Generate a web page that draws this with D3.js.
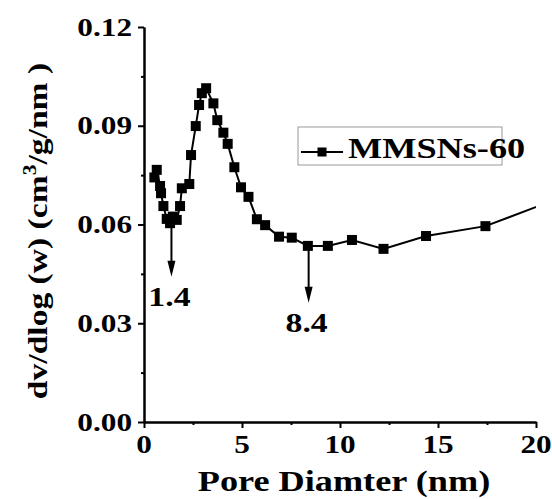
<!DOCTYPE html>
<html><head><meta charset="utf-8">
<script src="https://cdn.jsdelivr.net/npm/d3@7"></script>
<style>html,body{margin:0;padding:0;background:#fff;}svg{display:block;}</style>
</head><body>
<svg id="c" width="552" height="499"></svg>
<script>
// ---- data ----
const poreDiameter = [0.53,0.65,0.82,0.87,0.99,1.16,1.33,1.47,1.67,1.84,1.93,2.31,2.40,2.64,2.81,2.95,3.17,3.54,3.74,4.05,4.27,4.61,4.95,5.33,5.76,6.18,6.89,7.54,8.36,9.38,10.61,12.22,14.39,17.42,22.6];
const dvdlogW      = [0.0743,0.0766,0.0717,0.0695,0.0656,0.0617,0.0604,0.0624,0.0614,0.0656,0.0710,0.0723,0.0811,0.0899,0.0963,0.0999,0.1014,0.0968,0.0917,0.0879,0.0845,0.0774,0.0713,0.0684,0.0616,0.0598,0.0563,0.0560,0.0535,0.0535,0.0553,0.0526,0.0565,0.0595,0.0712];
const xTicks = [0,5,10,15,20];
const xMinor = [2.5,7.5,12.5,17.5];
const yTicks = [0.00,0.03,0.06,0.09,0.12];
const yMinor = [0.015,0.045,0.075,0.105];
const seriesName = "MMSNs-60";
const annotations = [{x:1.4, y0:0.0600, y1:0.0441, label:"1.4"},{x:8.4, y0:0.0530, y1:0.0362, label:"8.4"}];

const svg = d3.select("#c");
const L=144, R=536, T=27, B=422;
const x = d3.scaleLinear().domain([0,20]).range([L,R]);
const y = d3.scaleLinear().domain([0,0.12]).range([B,T]);
const FONT = "'Liberation Serif','Times New Roman',serif";
const SX = 1.25;

function stext(g, tx, ty, str, size, anchor){
  const grp = g.append("g").attr("transform",`translate(${tx},${ty}) scale(${SX},1)`);
  return grp.append("text").attr("x",0).attr("y",0).attr("text-anchor",anchor)
    .attr("font-family",FONT).attr("font-weight","bold").attr("font-size",size).attr("fill","#000").text(str);
}

// clip
svg.append("clipPath").attr("id","clip").append("rect").attr("x",L).attr("y",T-10).attr("width",R-L).attr("height",B-T+10);

// axes
const xAxis = d3.axisBottom(x).tickValues(xTicks).tickSize(6).tickFormat("");
const xAxisMinor = d3.axisBottom(x).tickValues(xMinor).tickSize(3).tickFormat("");
const yAxis = d3.axisLeft(y).tickValues(yTicks).tickSize(6).tickFormat("");
const yAxisMinor = d3.axisLeft(y).tickValues(yMinor).tickSize(3).tickFormat("");
[ [xAxis,`translate(0,${B})`],[xAxisMinor,`translate(0,${B})`],[yAxis,`translate(${L},0)`],[yAxisMinor,`translate(${L},0)`] ].forEach(([a,t])=>{
  const g = svg.append("g").attr("transform",t).call(a.tickSizeOuter(0));
  g.selectAll("path").attr("stroke","#000").attr("stroke-width",2);
  g.selectAll("line").attr("stroke","#000").attr("stroke-width",2);
});

// tick labels
const lab = svg.append("g");
xTicks.forEach(v=>stext(lab, x(v), 453, String(v), 25, "middle"));
yTicks.forEach(v=>stext(lab, 132, y(v)+8.5, d3.format(".2f")(v), 25, "end"));

// axis titles
stext(svg, (L+R)/2+4, 491, "Pore Diamter (nm)", 29, "middle");
{
  const g = svg.append("g").attr("transform",`translate(47,231) rotate(-90) scale(1.2,1)`);
  const t = g.append("text").attr("text-anchor","middle").attr("font-family",FONT).attr("font-weight","bold").attr("font-size",28).attr("fill","#000");
  t.append("tspan").text("dv/dlog (w)  (cm");
  t.append("tspan").attr("font-size",18).attr("dy",-11).text("3");
  t.append("tspan").attr("dy",11).text("/g/nm )");
}

// data
const pts = poreDiameter.map((d,i)=>({x:d,y:dvdlogW[i]}));
const plot = svg.append("g").attr("clip-path","url(#clip)");
plot.append("path").datum(pts).attr("fill","none").attr("stroke","#000").attr("stroke-width",2)
  .attr("d", d3.line().x(d=>x(d.x)).y(d=>y(d.y)));
const M=10;
plot.selectAll("rect.m").data(pts).join("rect").attr("class","m")
  .attr("x",d=>x(d.x)-M/2).attr("y",d=>y(d.y)-M/2).attr("width",M).attr("height",M).attr("fill","#000");

// annotations
annotations.forEach(a=>{
  const px = x(a.x);
  svg.append("line").attr("x1",px).attr("x2",px).attr("y1",y(a.y0)).attr("y2",y(a.y1)-10).attr("stroke","#000").attr("stroke-width",2);
  svg.append("path").attr("d",`M${px-4},${y(a.y1)-16} L${px+4},${y(a.y1)-16} L${px},${y(a.y1)} Z`).attr("fill","#000");
  stext(svg, px-2, y(a.y1)+29, a.label, 27, "middle");
});

// legend
const lg = svg.append("g");
lg.append("rect").attr("x",298).attr("y",127).attr("width",204).attr("height",38).attr("fill","#fff").attr("stroke","#999").attr("stroke-width",1);
lg.append("line").attr("x1",301).attr("x2",343).attr("y1",152).attr("y2",152).attr("stroke","#000").attr("stroke-width",2);
lg.append("rect").attr("x",322-4.5).attr("y",152-4.5).attr("width",9).attr("height",9).attr("fill","#000");
stext(lg, 348, 158, seriesName, 29, "start");
</script>
</body></html>
